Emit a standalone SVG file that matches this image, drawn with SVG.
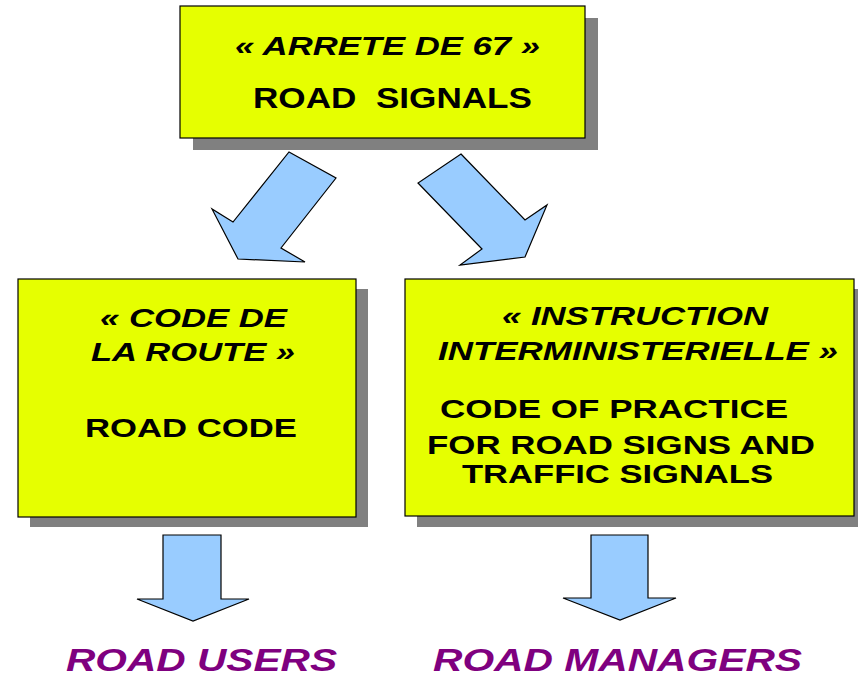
<svg xmlns="http://www.w3.org/2000/svg" width="858" height="677" viewBox="0 0 858 677">
<style>
.shadow{fill:#808080}
.box{fill:#e6ff00;stroke:#000;stroke-width:1.2}
.arrow{fill:#99ccff;stroke:#000;stroke-width:1.2;stroke-linejoin:miter}
text{font-family:"Liberation Sans",Arial,sans-serif;font-weight:bold;fill:#000;white-space:pre}
.it{font-style:italic}
.out{font-style:italic;fill:#7f007f}
</style>
<rect width="858" height="677" fill="#fff"/>
<g id="node-arrete">
<rect class="shadow" x="193" y="18" width="405" height="132"/>
<rect class="box" x="180" y="6" width="405" height="132"/>
<text class="it" x="235" y="55" font-size="26" textLength="305" lengthAdjust="spacingAndGlyphs">« ARRETE DE 67 »</text>
<text x="253" y="108" font-size="29" textLength="279" lengthAdjust="spacingAndGlyphs" xml:space="preserve">ROAD  SIGNALS</text>
</g>
<g id="node-code-route">
<rect class="shadow" x="30" y="289" width="338" height="238"/>
<rect class="box" x="18" y="279" width="338" height="238"/>
<text class="it" x="100" y="327" font-size="25" textLength="187" lengthAdjust="spacingAndGlyphs">« CODE DE</text>
<text class="it" x="91" y="361" font-size="25" textLength="204" lengthAdjust="spacingAndGlyphs">LA ROUTE »</text>
<text x="85" y="437" font-size="26" textLength="212" lengthAdjust="spacingAndGlyphs">ROAD CODE</text>
</g>
<g id="node-instruction">
<rect class="shadow" x="417" y="289" width="449" height="238"/>
<rect class="box" x="405" y="279" width="449" height="237"/>
<text class="it" x="502" y="325" font-size="25" textLength="266" lengthAdjust="spacingAndGlyphs">« INSTRUCTION</text>
<text class="it" x="438" y="360" font-size="25" textLength="400" lengthAdjust="spacingAndGlyphs">INTERMINISTERIELLE »</text>
<text x="440" y="418" font-size="25" textLength="348" lengthAdjust="spacingAndGlyphs">CODE OF PRACTICE</text>
<text x="427" y="454" font-size="25" textLength="388" lengthAdjust="spacingAndGlyphs">FOR ROAD SIGNS AND</text>
<text x="462" y="483" font-size="25" textLength="311" lengthAdjust="spacingAndGlyphs">TRAFFIC SIGNALS</text>
</g>
<g id="node-road-users">
<text class="out" x="66" y="671" font-size="31" textLength="271" lengthAdjust="spacingAndGlyphs">ROAD USERS</text>
</g>
<g id="node-road-managers">
<text class="out" x="433" y="671" font-size="31" textLength="369" lengthAdjust="spacingAndGlyphs">ROAD MANAGERS</text>
</g>
<g id="connectors">
<polygon class="arrow" points="289,152 336,178 281,248 305,262 238,259 212,209 233,222"/>
<polygon class="arrow" points="461,154 525,220 547,205 525,257 460,265 482,249 418,183"/>
<polygon class="arrow" points="163,535 221,535 221,599 249,599 193,621 137,599 163,599"/>
<polygon class="arrow" points="591,535 648,535 648,598 676,598 620,620 563,598 591,598"/>
</g>
</svg>
